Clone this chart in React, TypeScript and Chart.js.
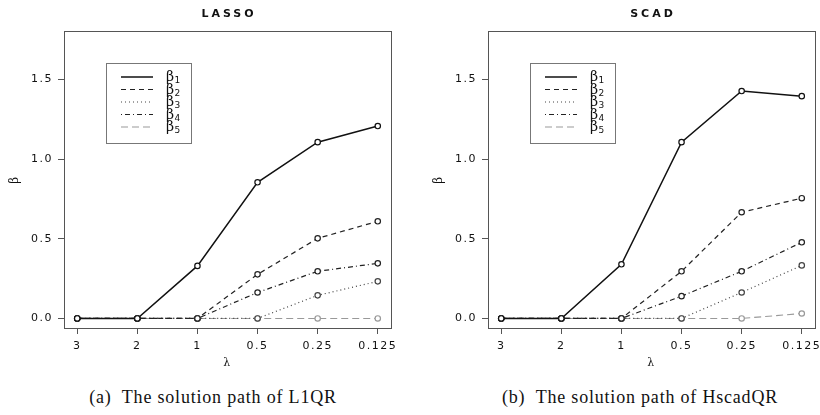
import React, { useEffect, useRef } from "react";
import { Chart, registerables } from "chart.js";

Chart.register(...registerables);

// ---- data ----
const lambdaLabels = ["3", "2", "1", "0.5", "0.25", "0.125"];
const yTickValues = [0, 0.5, 1.0, 1.5];
const seriesNumbers = ["1", "2", "3", "4", "5"];

const lassoB1 = [0, 0, 0.33, 0.855, 1.107, 1.208];
const lassoB2 = [0, 0, 0, 0.277, 0.503, 0.61];
const lassoB3 = [0, 0, 0, 0, 0.145, 0.233];
const lassoB4 = [0, 0, 0, 0.163, 0.296, 0.346];
const lassoB5 = [0, 0, 0, 0, 0, 0];

const scadB1 = [0, 0, 0.34, 1.107, 1.428, 1.396];
const scadB2 = [0, 0, 0, 0.296, 0.667, 0.755];
const scadB3 = [0, 0, 0, 0, 0.163, 0.333];
const scadB4 = [0, 0, 0, 0.14, 0.296, 0.478];
const scadB5 = [0, 0, 0, 0, 0, 0.031];

// ---- styles ----
const lineStyles = [
  { dash: [] as number[], color: "#111", width: 1.5 },
  { dash: [5, 4], color: "#222", width: 1.2 },
  { dash: [1, 3], color: "#444", width: 1.2 },
  { dash: [1, 3, 5, 3], color: "#222", width: 1.2 },
  { dash: [7, 4], color: "#999", width: 1.1 },
];

const CANVAS_W = 410;
const CANVAS_H = 375;

const panelPlugin = {
  id: "panelDecor",
  beforeDraw(chart: any) {
    (chart.ctx as any).letterSpacing = "1.5px";
  },
  afterDraw(chart: any, _args: any, opts: any) {
    const ctx = chart.ctx as any;
    const a = chart.chartArea;
    ctx.save();
    ctx.letterSpacing = "0px";
    ctx.setLineDash([]);
    // full plot box
    ctx.strokeStyle = "#555";
    ctx.lineWidth = 1;
    ctx.strokeRect(Math.round(a.left) + 0.5, Math.round(a.top) + 0.5, Math.round(a.right - a.left), Math.round(a.bottom - a.top));

    // title
    ctx.fillStyle = "#111";
    ctx.font = "bold 11px 'DejaVu Sans'";
    ctx.letterSpacing = "3px";
    ctx.textAlign = "center";
    ctx.textBaseline = "middle";
    ctx.fillText(opts.title, (a.left + a.right) / 2 + 1.5, 14);
    ctx.letterSpacing = "0px";

    // legend box
    const bx = 106, by = 63, bw = 85, bh = 80;
    ctx.strokeStyle = "#777";
    ctx.lineWidth = 1;
    ctx.strokeRect(bx + 0.5, by + 0.5, bw, bh);
    const rows = [77, 89.5, 102, 114.5, 127];
    seriesNumbers.forEach((num, i) => {
      const st = lineStyles[i];
      const y = rows[i];
      ctx.beginPath();
      ctx.setLineDash(st.dash);
      ctx.strokeStyle = st.color;
      ctx.lineWidth = st.width;
      ctx.moveTo(121, y);
      ctx.lineTo(153, y);
      ctx.stroke();
      ctx.setLineDash([]);
      ctx.fillStyle = "#111";
      ctx.textAlign = "left";
      ctx.textBaseline = "alphabetic";
      ctx.font = "14px 'DejaVu Serif'";
      ctx.fillText("β", 166, y + 4);
      const w = ctx.measureText("β").width;
      ctx.font = "9px 'DejaVu Sans'";
      ctx.fillText(num, 166 + w + 0.5, y + 6);
    });
    ctx.restore();
    ctx.letterSpacing = "0px";
  },
};

type PanelProps = { title: string; series: number[][] };

function Panel({ title, series }: PanelProps) {
  const ref = useRef<HTMLCanvasElement | null>(null);
  useEffect(() => {
    if (!ref.current) return;
    const datasets = series.map((vals, i) => ({
      label: "β" + seriesNumbers[i],
      data: vals.map((v, j) => ({ x: j, y: v })),
      borderColor: lineStyles[i].color,
      borderWidth: lineStyles[i].width,
      borderDash: lineStyles[i].dash,
      pointRadius: 2.7,
      pointBorderWidth: 1.2,
      pointBorderColor: lineStyles[i].color,
      pointBackgroundColor: "#fff",
      pointStyle: "circle",
      fill: false,
      tension: 0,
    }));
    const chart = new Chart(ref.current, {
      type: "line",
      data: { datasets },
      plugins: [panelPlugin as any],
      options: {
        animation: false,
        responsive: false,
        devicePixelRatio: 1,
        layout: { padding: { top: 31, right: 19, left: 0, bottom: 0 } },
        plugins: {
          legend: { display: false },
          tooltip: { enabled: false },
          title: { display: false },
          panelDecor: { title },
        } as any,
        scales: {
          x: {
            type: "linear",
            min: -0.22,
            max: 5.22,
            afterBuildTicks: (s: any) => {
              s.ticks = lambdaLabels.map((_, i) => ({ value: i }));
            },
            afterFit: (s: any) => {
              s.height = CANVAS_H - 328;
            },
            ticks: {
              autoSkip: false,
              maxRotation: 0,
              padding: 6,
              color: "#111",
              font: { family: "'DejaVu Sans'", size: 11 },
              callback: (_v: any, i: number) => lambdaLabels[i],
            },
            grid: { drawOnChartArea: false, drawTicks: true, tickLength: 6, color: "#555" },
            border: { display: true, color: "#555" },
            title: {
              display: true,
              text: "λ",
              color: "#111",
              font: { family: "'DejaVu Serif'", size: 11 },
              padding: { top: 0, bottom: 5 },
            },
          },
          y: {
            type: "linear",
            min: -0.06,
            max: 1.805,
            afterBuildTicks: (s: any) => {
              s.ticks = yTickValues.map((v) => ({ value: v }));
            },
            afterFit: (s: any) => {
              s.width = 64;
            },
            ticks: {
              padding: 5,
              color: "#111",
              font: { family: "'DejaVu Sans'", size: 11 },
              callback: (v: any) => Number(v).toFixed(1),
            },
            grid: { drawOnChartArea: false, drawTicks: true, tickLength: 6, color: "#555" },
            border: { display: true, color: "#555" },
            title: {
              display: true,
              text: "β",
              color: "#111",
              font: { family: "'DejaVu Serif'", size: 12 },
              padding: { top: 8, bottom: 0 },
            },
          },
        },
      } as any,
    });
    return () => chart.destroy();
  }, [title, series]);
  return <canvas ref={ref} width={CANVAS_W} height={CANVAS_H} style={{ width: CANVAS_W, height: CANVAS_H, display: "block" }} />;
}

const lassoSeries = [lassoB1, lassoB2, lassoB3, lassoB4, lassoB5];
const scadSeries = [scadB1, scadB2, scadB3, scadB4, scadB5];

const captionStyle: React.CSSProperties = {
  position: "absolute",
  top: 386,
  width: 400,
  textAlign: "center",
  fontFamily: "'Liberation Serif', serif",
  fontSize: 18,
  lineHeight: "22px",
  letterSpacing: "0.8px",
  color: "#111",
  whiteSpace: "pre",
};

export default function App() {
  return (
    <div style={{ position: "fixed", left: 0, top: 0, width: 820, height: 415, overflow: "hidden", background: "#fff" }}>
      <div style={{ position: "absolute", left: 0, top: 0 }}>
        <Panel title="LASSO" series={lassoSeries} />
      </div>
      <div style={{ position: "absolute", left: 424, top: 0 }}>
        <Panel title="SCAD" series={scadSeries} />
      </div>
      <div style={{ ...captionStyle, left: 213 - 200 }}>{"(a)  The solution path of L1QR"}</div>
      <div style={{ ...captionStyle, left: 640 - 200 }}>{"(b)  The solution path of HscadQR"}</div>
    </div>
  );
}
